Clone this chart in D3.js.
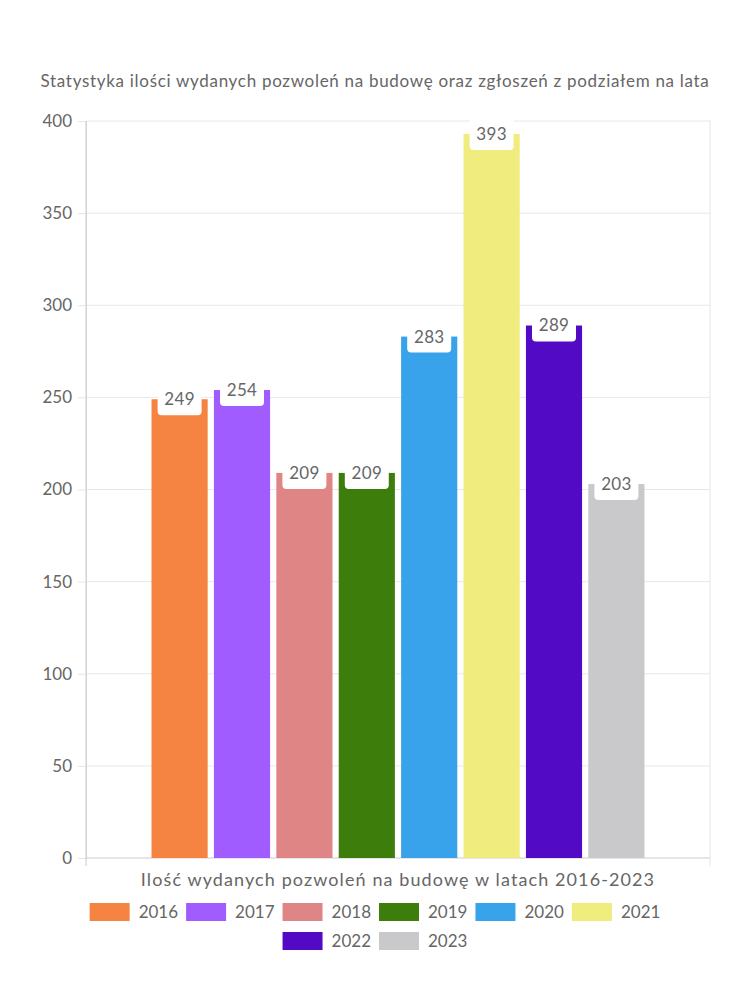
<!DOCTYPE html>
<html>
<head>
<meta charset="utf-8">
<script src="https://cdn.jsdelivr.net/npm/d3@7"></script>
<style>
  body { margin: 0; background: #fff; }
  text { font-family: Lato, "Noto Sans", sans-serif; fill: #666; }
</style>
</head>
<body>
<svg id="chart"></svg>
<script>
const TITLE = "Statystyka ilości wydanych pozwoleń na budowę oraz zgłoszeń z podziałem na lata";
const CATEGORIES = ["Ilość wydanych pozwoleń na budowę w latach 2016-2023"];
const YEARS = ["2016", "2017", "2018", "2019", "2020", "2021", "2022", "2023"];
const VALUES = [249, 254, 209, 209, 283, 393, 289, 203];
const COLORS = ["#f58442", "#a05cff", "#e08585", "#3d7d0c", "#38a3eb", "#f0ec7d", "#520ac4", "#c9c9cc"];
const Y_TICKS = [0, 50, 100, 150, 200, 250, 300, 350, 400];

const WIDTH = 750;
const HEIGHT = 1000;
const LEFT = 86, RIGHT = 710, TOP = 121, BOTTOM = 858;

var svg = d3.select("#chart")
    .attr("width", WIDTH)
    .attr("height", HEIGHT);

var y = d3.scaleLinear().domain([0, 400]).range([BOTTOM, TOP]);

var x0 = d3.scaleBand().domain(CATEGORIES).range([LEFT, RIGHT]);

var x1 = d3.scaleBand()
    .domain(YEARS)
    .range([x0.bandwidth() * 0.1, x0.bandwidth() * 0.9])
    .paddingInner(0.1)
    .paddingOuter(0.05);

var color = d3.scaleOrdinal(YEARS, COLORS);

// title
svg.append("text")
    .attr("x", WIDTH / 2)
    .attr("y", 87)
    .attr("text-anchor", "middle")
    .style("font-size", "17px")
    .style("letter-spacing", "0.7px")
    .text(TITLE);

// grid + y axis
var yAxis = svg.append("g")
    .attr("transform", "translate(" + LEFT + ",0)")
    .call(d3.axisLeft(y).tickValues(Y_TICKS).tickSize(8).tickPadding(6));
yAxis.select(".domain").attr("stroke", "#ddd");
yAxis.selectAll(".tick line").attr("stroke", "#e5e5e5");
yAxis.selectAll(".tick text").style("font-size", "17px").attr("fill", "#666");

svg.append("g")
    .selectAll("line")
    .data(Y_TICKS)
    .enter().append("line")
    .attr("x1", LEFT).attr("x2", RIGHT)
    .attr("y1", d => y(d)).attr("y2", d => y(d))
    .attr("stroke", d => d === 0 ? "#ccc" : "#e8e8e8");

// vertical grid at band edges
svg.append("g")
    .selectAll("line")
    .data([LEFT, RIGHT])
    .enter().append("line")
    .attr("x1", d => d).attr("x2", d => d)
    .attr("y1", TOP).attr("y2", BOTTOM + 8)
    .attr("stroke", (d, i) => i === 0 ? "#ccc" : "#e5e5e5");

// x category label
svg.append("g")
    .selectAll("text")
    .data(CATEGORIES)
    .enter().append("text")
    .attr("x", d => x0(d) + x0.bandwidth() / 2)
    .attr("y", 886)
    .attr("text-anchor", "middle")
    .style("font-size", "18px")
    .style("letter-spacing", "1.1px")
    .text(d => d);

// bars
var groups = svg.append("g")
    .selectAll("g")
    .data(CATEGORIES)
    .enter().append("g")
    .attr("transform", d => "translate(" + x0(d) + ",0)");

groups.selectAll("rect")
    .data(YEARS.map((yr, i) => ({ year: yr, value: VALUES[i] })))
    .enter().append("rect")
    .attr("x", d => x1(d.year))
    .attr("width", x1.bandwidth())
    .attr("y", d => y(d.value))
    .attr("height", d => BOTTOM - y(d.value))
    .attr("fill", d => color(d.year));

// value labels
var labels = groups.selectAll(".lbl")
    .data(YEARS.map((yr, i) => ({ year: yr, value: VALUES[i] })))
    .enter().append("g")
    .attr("class", "lbl")
    .attr("transform", d => "translate(" + (x1(d.year) + x1.bandwidth() / 2) + "," + y(d.value) + ")");

labels.append("rect")
    .attr("x", -22)
    .attr("y", -16)
    .attr("width", 44)
    .attr("height", 32)
    .attr("rx", 4)
    .attr("fill", "#fff");

labels.append("text")
    .attr("text-anchor", "middle")
    .attr("dy", "0.35em")
    .style("font-size", "17px")
    .style("letter-spacing", "0.3px")
    .text(d => d.value);

// legend
var rows = [YEARS.slice(0, 6), YEARS.slice(6)];
var legend = svg.append("g");
rows.forEach(function(row, r) {
    var g = legend.append("g");
    var cx = 0;
    row.forEach(function(yr) {
        var item = g.append("g").attr("transform", "translate(" + cx + ",0)");
        item.append("rect")
            .attr("width", 40).attr("height", 18)
            .attr("fill", color(yr));
        var t = item.append("text")
            .attr("x", 49).attr("y", 9)
            .attr("dy", "0.35em")
            .style("font-size", "17px")
            .text(yr);
        cx += 49 + t.node().getComputedTextLength() + 8;
    });
    var w = cx - 8;
    g.attr("transform", "translate(" + (WIDTH / 2 - w / 2) + "," + (903 + r * 29) + ")");
});
</script>
</body>
</html>
